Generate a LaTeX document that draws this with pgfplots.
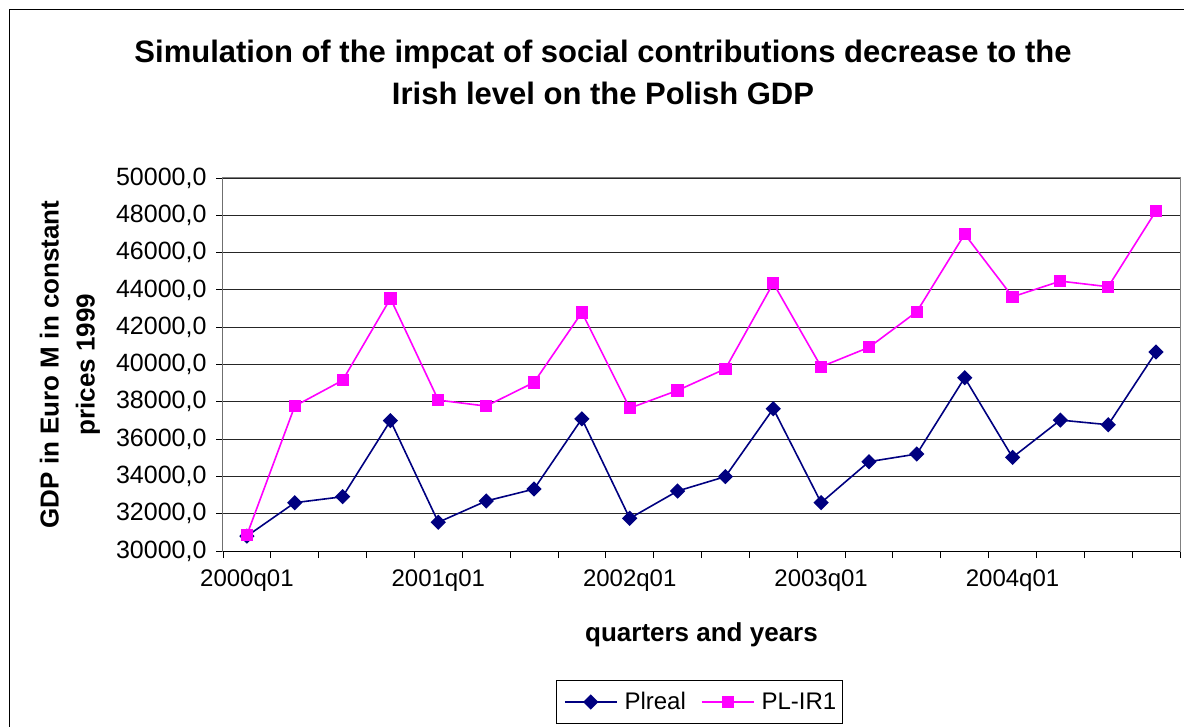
\documentclass[border=0pt]{standalone}
\usepackage{fontspec}
\setmainfont{Liberation Sans}
\usepackage{pgfplots}
\usepackage{pgfplotstable}
\pgfplotsset{compat=1.18}
\definecolor{plnavy}{HTML}{000080}
\definecolor{plmagenta}{HTML}{FF00FF}

% Quarterly GDP, 2000q01 -- 2004q04 (category i plotted at i+0.5)
\pgfplotstableread{
x     real    ir1
0.5   30800   30860
1.5   32590   37770
2.5   32910   39150
3.5   36990   43540
4.5   31540   38090
5.5   32680   37770
6.5   33320   39040
7.5   37090   42790
8.5   31750   37660
9.5   33215   38610
10.5  33990   39770
11.5  37630   44360
12.5  32590   39880
13.5  34790   40920
14.5  35200   42830
15.5  39290   46990
16.5  35020   43630
17.5  37020   44470
18.5  36770   44170
19.5  40670   48240
}\gdpdata

\begin{document}
\begin{tikzpicture}
\useasboundingbox (0pt,0pt) rectangle (1184pt,726pt);
\clip (0pt,0pt) rectangle (1184pt,726pt);
% chart frame
\draw[black, line width=1pt] (9.5pt,716.5pt) rectangle (1260pt,-40pt);
% title
\node[font=\bfseries\fontsize{31}{36}\selectfont, anchor=base] at (603pt,663pt)
  {Simulation of the impcat of social contributions decrease to the};
\node[font=\bfseries\fontsize{31}{36}\selectfont, anchor=base] at (603pt,621pt)
  {Irish level on the Polish GDP};
\begin{axis}[
  at={(223pt,175pt)}, anchor=south west,
  scale only axis, width=957pt, height=373pt,
  xmin=0, xmax=20, ymin=30000, ymax=50000,
  ytick={30000,32000,...,50000},
  scaled y ticks=false,
  xtick={0,1,...,20},
  xticklabels={2000q01,,,,2001q01,,,,2002q01,,,,2003q01,,,,2004q01,,,,},
  x tick label style={xshift=23.925pt, yshift=-8pt, font=\fontsize{24}{24}\selectfont},
  y tick label style={xshift=-6pt, font=\fontsize{25}{25}\selectfont},
  tick align=outside, major tick length=7pt,
  tick style={black, line width=0.9pt},
  xtick pos=bottom, ytick pos=left,
  ymajorgrids, grid style={black!85, line width=0.9pt},
  axis line style={gray, line width=1pt},
  /pgf/number format/assume math mode=true,
  yticklabel={\pgfmathprintnumber[fixed, fixed zerofill, precision=1, use comma, 1000 sep={}]{\tick}},
  xlabel={quarters and years},
  xlabel style={font=\bfseries\fontsize{26}{26}\selectfont, at={(axis description cs:0.5,-0.2413)}, anchor=base},
  ylabel={GDP in Euro M in constant\\prices 1999},
  ylabel style={font=\bfseries\fontsize{26}{36}\selectfont, align=center, at={(axis description cs:-0.1599,0.5)}, anchor=center},
  legend columns=2,
  legend style={at={(0.498,-0.346)}, anchor=north, draw=black, line width=1pt,
    font=\fontsize{24}{24}\selectfont, inner xsep=4pt, inner ysep=10pt,
    /tikz/every even column/.append style={column sep=10pt}},
  legend image code/.code={\draw[mark repeat=2, mark phase=2, #1]
    plot coordinates {(0pt,0pt) (26pt,0pt) (52pt,0pt)};
    \path (-3pt,0pt) (57pt,0pt);},
]
\addplot[plnavy, line width=1.6pt, mark=square*, mark size=4.6pt,
  mark options={rotate=45, solid, fill=plnavy}] table[x=x, y=real] {\gdpdata};
\addlegendentry{Plreal}
\addplot[plmagenta, line width=1.6pt, mark=square*, mark size=5.3pt,
  mark options={solid, fill=plmagenta}] table[x=x, y=ir1] {\gdpdata};
\addlegendentry{PL-IR1}
\draw[black, line width=1pt] (rel axis cs:0,1) -- (rel axis cs:0,0) -- (rel axis cs:1,0);
\end{axis}
\end{tikzpicture}
\end{document}
